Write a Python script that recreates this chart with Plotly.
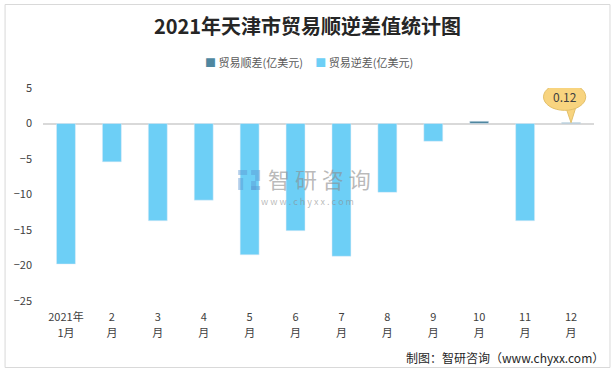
import plotly.graph_objects as go

label_top = ["2021年", "2", "3", "4", "5", "6", "7", "8", "9", "10", "11", "12"]
label_bottom = ["1月", "月", "月", "月", "月", "月", "月", "月", "月", "月", "月", "月"]
surplus = [None, None, None, None, None, None, None, None, None, 0.32, None, 0.12]
deficit = [-19.8, -5.4, -13.7, -10.8, -18.5, -15.1, -18.7, -9.7, -2.5, None, -13.7, None]
series_names = ["贸易顺差(亿美元)", "贸易逆差(亿美元)"]
series_colors = ["#4F87A0", "#6DCFF6"]
callout_idx = 11
callout_text = "0.12"

FONT = "Microsoft YaHei, Noto Sans CJK SC, sans-serif"
idx = list(range(len(label_top)))

fig = go.Figure()
fig.add_trace(go.Bar(name=series_names[0], x=idx, y=surplus, marker_color=series_colors[0]))
fig.add_trace(go.Bar(name=series_names[1], x=idx, y=deficit, marker_color=series_colors[1]))
# helper trace so the second label row (axis x2) is drawn
fig.add_trace(go.Scatter(x=idx, y=[None] * len(idx), xaxis="x2", mode="markers",
                         showlegend=False, hoverinfo="skip"))

# plot area in pixels: x 42.5..594.5, y 88..301
L, R, T, B = 42.5, 594.5, 88, 301
W, H = 615, 372

def px(xp):
    return (xp - L) / (R - L)

def py(yp):
    return (B - yp) / (B - T)

# outer border
fig.add_shape(type="rect", xref="paper", yref="paper", x0=px(4.5), x1=px(610.5), y0=py(367.5), y1=py(4.5),
              line=dict(color="#D9D9D9", width=1), fillcolor="rgba(0,0,0,0)", layer="below")

# legend (drawn manually to match the compact look)
legend_text = (f"<span style='color:{series_colors[0]}'>■</span> {series_names[0]}"
               f"&nbsp;&nbsp;&nbsp;&nbsp;&nbsp;"
               f"<span style='color:{series_colors[1]}'>■</span> {series_names[1]}")
fig.add_annotation(x=px(309), y=py(62), xref="paper", yref="paper", text=legend_text, showarrow=False,
                   xanchor="center", yanchor="middle", font=dict(size=11, color="#595959", family=FONT))

# callout bubble
cy = surplus[callout_idx]
fig.add_shape(type="path", xref="x", yref="y",
              path=f"M {callout_idx-0.12},2.4 L {callout_idx},{cy} L {callout_idx+0.12},2.6 Z",
              fillcolor="#F8D47F", line=dict(color="#E3C06A", width=1))
fig.add_shape(type="circle", xref="x", yref="y", x0=callout_idx-0.6, x1=callout_idx+0.32, y0=1.85, y1=5.65,
              fillcolor="#F8D47F", line=dict(color="#E3C06A", width=1))
fig.add_annotation(x=callout_idx-0.14, y=3.75, xref="x", yref="y", text=callout_text, showarrow=False,
                   font=dict(size=12, color="#404040", family=FONT))

# watermark
fig.add_annotation(x=px(320), y=py(178), xref="paper", yref="paper", text="智 研 咨 询", showarrow=False,
                   font=dict(size=22, color="rgba(140,140,140,0.6)", family=FONT))
fig.add_annotation(x=px(307), y=py(201), xref="paper", yref="paper", text="w w w . c h y x x . c o m",
                   showarrow=False, font=dict(size=9, color="rgba(140,140,140,0.6)", family=FONT))
for (a, b, c, d) in [(238, 170, 247, 175), (238, 178, 243, 190), (251, 170, 260, 175),
                     (255, 175, 260, 181), (251, 181, 256, 190), (251, 186, 260, 190)]:
    fig.add_shape(type="rect", xref="paper", yref="paper", x0=px(a), x1=px(c), y0=py(d), y1=py(b),
                  fillcolor="rgba(90,150,210,0.45)", line=dict(width=0))

# footer
fig.add_annotation(x=px(607), y=py(357), xref="paper", yref="paper", xanchor="right", yanchor="middle",
                   text="制图：智研咨询（www.chyxx.com）", showarrow=False,
                   font=dict(size=12, color="#262626", family=FONT))

fig.update_layout(
    width=W, height=H,
    margin=dict(l=L, r=W - R, t=T, b=H - B, pad=0, autoexpand=False),
    paper_bgcolor="white", plot_bgcolor="white",
    barmode="relative", bargap=1 - 19 / 46,
    title=dict(text="<b>2021年天津市贸易顺逆差值统计图</b>", x=0.5, xanchor="center",
               y=1 - 27 / H, yanchor="middle",
               font=dict(size=20, color="#262626", family="Noto Sans CJK SC, serif")),
    showlegend=False,
    font=dict(family=FONT),
    xaxis=dict(range=[-0.5, len(idx) - 0.5], tickmode="array", tickvals=idx, ticktext=label_top,
               showgrid=False, showline=False, ticks="", zeroline=False, automargin=False,
               tickfont=dict(size=11, color="#404040"), ticklabelstandoff=8),
    xaxis2=dict(overlaying="x", matches="x", side="bottom", tickmode="array", tickvals=idx,
                ticktext=label_bottom, showgrid=False, showline=False, ticks="", zeroline=False,
                automargin=False, tickfont=dict(size=11, color="#404040"), ticklabelstandoff=24),
    yaxis=dict(range=[-25, 5], dtick=5, showgrid=False, zeroline=True, zerolinecolor="#D9D9D9",
               zerolinewidth=1.5, showline=False, ticks="", automargin=False, ticklabelstandoff=10,
               tickfont=dict(size=11, color="#404040")),
)

fig.write_html("out.html", config={"displayModeBar": False},
               post_script="document.body.style.margin='0';document.body.style.overflow='hidden';")
